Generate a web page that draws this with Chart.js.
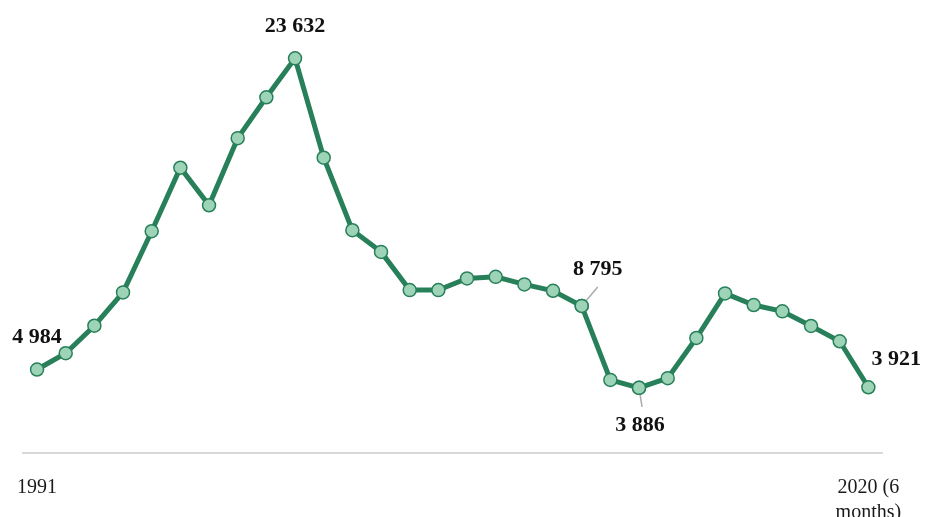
<!DOCTYPE html>
<html lang="en">
<head>
    <meta charset="UTF-8">
    <title>1991 - 2020</title>
    <script src="https://cdn.jsdelivr.net/npm/chart.js"></script>
    <style>
        body { margin: 0; background: #fff; }
        #wrap { width: 925px; height: 517px; }
    </style>
</head>
<body>
    <div id="wrap"><canvas id="lineChart" width="925" height="517"></canvas></div>

    <script>
        // data
        let years = [];
        for (let y = 1991; y <= 2020; y++) years.push(String(y));

        let values = [
            4984, 5960, 7611, 9607, 13272, 17080, 14826, 18850, 21301, 23632,
            17678, 13332, 12035, 9745, 9745, 10444, 10540, 10085, 9703, 8795,
            4364, 3886, 4466, 6875, 9548, 8848, 8471, 7593, 6678, 3921
        ];

        // only the first and last year get a label
        let tickLabels = years.map((y, i) => '');
        tickLabels[0] = '1991';
        tickLabels[29] = ['2020 (6', 'months)'];

        // which points carry a value label
        let labelled = [0, 9, 19, 21, 29];

        let green = '#28805a';
        let lightGreen = '#9dd3b7';

        // where each value label sits relative to its point, plus optional leader line
        let labelStyle = {
            0:  { dx: 0,  dy: -32 },
            9:  { dx: 0,  dy: -32 },
            19: { dx: 16, dy: -37, lx: 16, ly: -19 },
            21: { dx: 1,  dy: 37,  lx: 3,  ly: 19 },
            29: { dx: 28, dy: -28 }
        };

        function fmt(v) {
            return String(v).replace(/\B(?=(\d{3})+(?!\d))/g, ' ');
        }

        let valueLabels = {
            id: 'valueLabels',
            afterDatasetsDraw(chart) {
                let ctx = chart.ctx;
                let meta = chart.getDatasetMeta(0);
                ctx.save();
                labelled.forEach(i => {
                    let pt = meta.data[i];
                    let s = labelStyle[i];
                    if (s.lx !== undefined) {
                        ctx.strokeStyle = '#aaaaaa';
                        ctx.lineWidth = 1.5;
                        ctx.beginPath();
                        ctx.moveTo(pt.x, pt.y);
                        ctx.lineTo(pt.x + s.lx, pt.y + s.ly);
                        ctx.stroke();
                        // redraw the point on top of the leader line
                        pt.draw(ctx, chart.chartArea);
                    }
                    ctx.font = 'bold 22px "Liberation Serif", serif';
                    ctx.fillStyle = '#111';
                    ctx.textAlign = 'center';
                    ctx.textBaseline = 'middle';
                    ctx.fillText(fmt(values[i]), pt.x + s.dx, pt.y + s.dy);
                });
                ctx.restore();
            }
        };

        let ctx = document.getElementById('lineChart').getContext('2d');
        let lineChart = new Chart(ctx, {
            type: 'line',
            data: {
                labels: years,
                datasets: [{
                    data: values,
                    borderColor: green,
                    borderWidth: 5,
                    tension: 0,
                    pointRadius: 6.5,
                    pointBorderWidth: 1.5,
                    pointBorderColor: green,
                    pointBackgroundColor: lightGreen
                }]
            },
            options: {
                responsive: false,
                animation: false,
                layout: { padding: { left: 22.7, right: 42.3, top: 1, bottom: 0 } },
                plugins: {
                    legend: { display: false },
                    tooltip: { enabled: false }
                },
                scales: {
                    x: {
                        offset: true,
                        grid: { display: false },
                        border: { display: true, color: '#d9d9d9', width: 2 },
                        afterFit: s => { s.height = 64.3; },
                        ticks: {
                            autoSkip: false,
                            maxRotation: 0,
                            padding: 15,
                            color: '#1a1a1a',
                            font: { family: '"Liberation Serif", serif', size: 20, lineHeight: 1.25 },
                            callback: (v, i) => tickLabels[i]
                        }
                    },
                    y: {
                        display: false,
                        min: 0,
                        max: 26650
                    }
                }
            },
            plugins: [valueLabels]
        });
    </script>
</body>
</html>
